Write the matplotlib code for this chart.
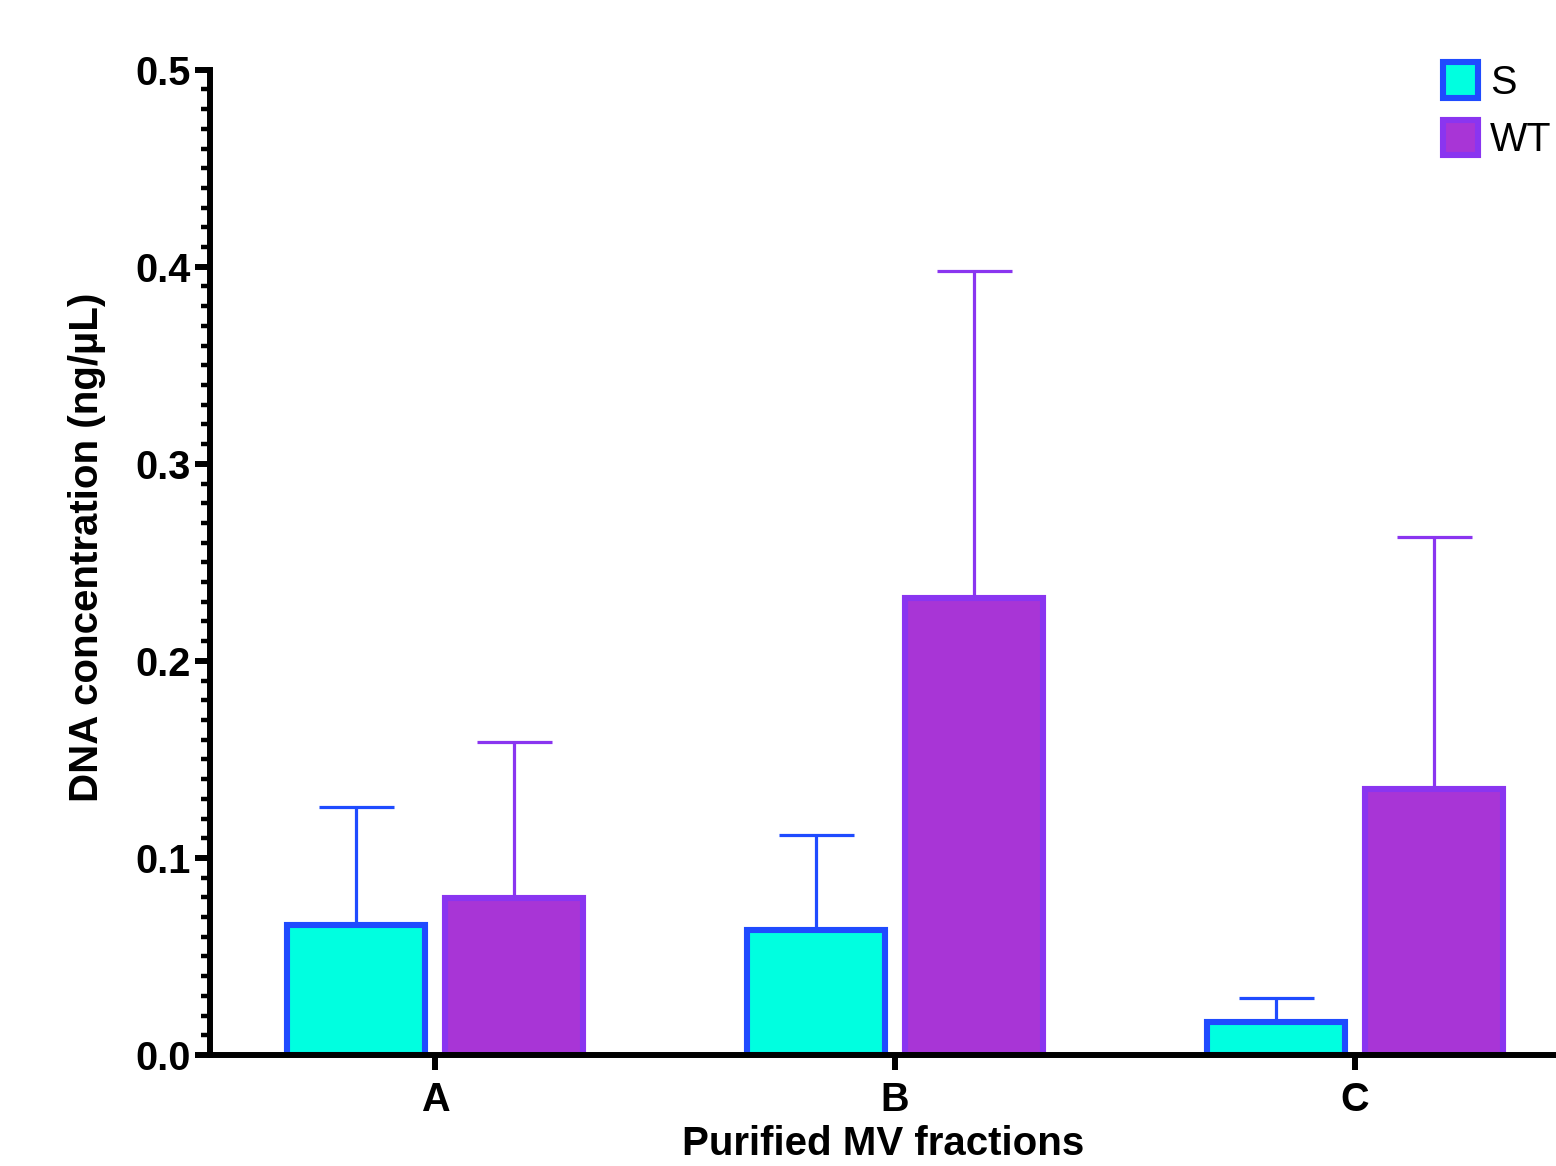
import numpy as np
import matplotlib.pyplot as plt
from matplotlib.patches import Patch
from matplotlib.ticker import MultipleLocator

# data
categories = ["A", "B", "C"]
s_mean = [0.066, 0.0635, 0.0168]
s_err = [0.060, 0.048, 0.012]
wt_mean = [0.0797, 0.232, 0.135]
wt_err = [0.079, 0.166, 0.128]

S_FACE, S_EDGE = "#00FFE0", "#1F4BFF"
WT_FACE, WT_EDGE = "#A835D6", "#8A35F0"

plt.rcParams["font.family"] = ["Liberation Sans", "DejaVu Sans"]

fig = plt.figure(figsize=(15.56, 11.66), dpi=100)
ax = fig.add_axes([0.135, 0.0952, 0.865, 0.845])

x = np.arange(len(categories))
off = 0.172
w = 0.30

ax.bar(x - off, s_mean, width=w, color=S_FACE, edgecolor=S_EDGE, linewidth=4.4,
       yerr=[np.zeros(3), s_err],
       error_kw=dict(ecolor=S_EDGE, elinewidth=2.3, capsize=27, capthick=2.3),
       zorder=3)
ax.bar(x + off, wt_mean, width=w, color=WT_FACE, edgecolor=WT_EDGE, linewidth=4.4,
       yerr=[np.zeros(3), wt_err],
       error_kw=dict(ecolor=WT_EDGE, elinewidth=2.3, capsize=27, capthick=2.3),
       zorder=3)

ax.set_xlim(-0.489, 2.437)
ax.set_ylim(0, 0.5)
ax.set_xticks(x)
ax.set_xticklabels(categories)
ax.yaxis.set_major_locator(MultipleLocator(0.1))
ax.yaxis.set_minor_locator(MultipleLocator(0.01))

for side in ["top", "right"]:
    ax.spines[side].set_visible(False)
for side in ["left", "bottom"]:
    ax.spines[side].set_linewidth(4.3)
    ax.spines[side].set_zorder(5)

ax.tick_params(axis="y", which="major", length=11, width=4.3, labelsize=28.5, pad=3)
ax.tick_params(axis="y", which="minor", length=6.5, width=3.2)
ax.tick_params(axis="x", which="major", length=11, width=4.3, labelsize=28.5, pad=8)
for lab in ax.get_xticklabels() + ax.get_yticklabels():
    lab.set_fontweight("bold")

ax.set_ylabel("DNA concentration (ng/µL)", fontsize=29, fontweight="bold")
ax.yaxis.set_label_coords(-0.077, 0.515)
ax.set_xlabel("Purified MV fractions", fontsize=29, fontweight="bold", labelpad=4)

handles = [
    Patch(facecolor=S_FACE, edgecolor=S_EDGE, linewidth=4.4, label="S"),
    Patch(facecolor=WT_FACE, edgecolor=WT_EDGE, linewidth=4.4, label="WT"),
]
fig.legend(handles=handles, loc="upper left", bbox_to_anchor=(0.917, 0.96),
           frameon=False, fontsize=28.5, handlelength=0.9, handleheight=1.0,
           handletextpad=0.3, labelspacing=0.45, borderaxespad=0)

fig.savefig("out.png", dpi=100)
